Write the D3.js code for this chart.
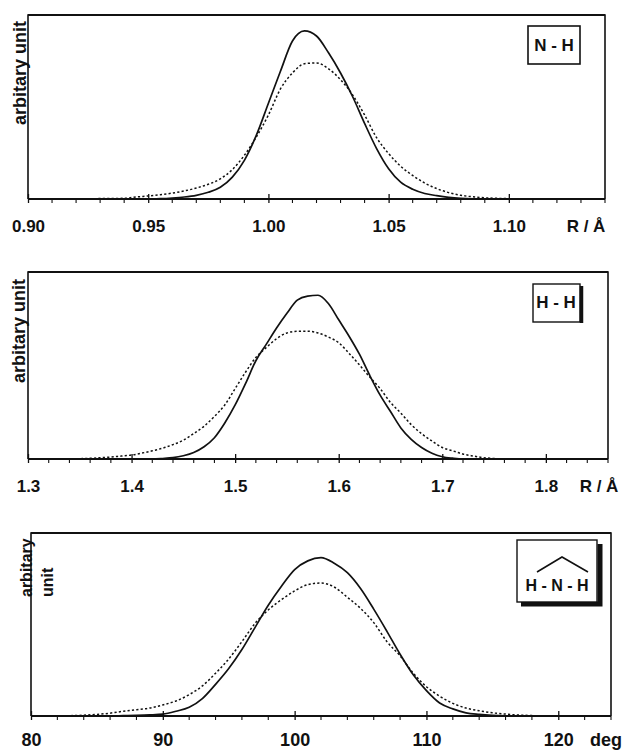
<!DOCTYPE html>
<html><head><meta charset="utf-8">
<script src="https://cdn.jsdelivr.net/npm/d3@7"></script>
<style>
body{margin:0;background:#fff;}
svg{display:block;}
text{font-family:"Liberation Sans",Arial,sans-serif;fill:#111;}
</style></head>
<body><svg id="c" width="624" height="752"></svg>
<script>
// ---------- Panel 1 : N-H bond length ----------
const nhX = [0.90,0.94,0.945,0.95,0.955,0.96,0.965,0.97,0.975,0.98,0.985,0.99,0.995,1.00,1.005,1.01,1.015,1.02,1.025,1.03,1.035,1.04,1.045,1.05,1.055,1.06,1.065,1.07,1.075,1.08,1.085,1.09,1.095,1.10,1.105,1.14];
const nhSolid = [0,0,0,0,0.002,0.006,0.012,0.022,0.04,0.07,0.13,0.23,0.38,0.57,0.76,0.94,1.00,0.97,0.87,0.75,0.61,0.45,0.30,0.18,0.10,0.058,0.033,0.02,0.01,0.004,0.001,0,0,0,0,0];
const nhDotted = [0,0.004,0.012,0.018,0.025,0.035,0.048,0.065,0.088,0.12,0.175,0.26,0.37,0.50,0.655,0.75,0.805,0.81,0.775,0.71,0.62,0.50,0.365,0.27,0.195,0.14,0.095,0.062,0.038,0.022,0.013,0.007,0.004,0.002,0,0];
const nhMajor = [0.90,0.95,1.00,1.05,1.10];
const nhMinor = [0.91,0.92,0.93,0.94,0.96,0.97,0.98,0.99,1.01,1.02,1.03,1.04,1.06,1.07,1.08,1.09,1.11,1.12,1.13,1.14];
const nhLabels = ["0.90","0.95","1.00","1.05","1.10"];

// ---------- Panel 2 : H-H distance ----------
const hhX = [1.30,1.34,1.35,1.36,1.37,1.38,1.39,1.40,1.41,1.42,1.43,1.44,1.45,1.46,1.47,1.48,1.49,1.50,1.51,1.52,1.53,1.54,1.55,1.56,1.57,1.58,1.59,1.60,1.61,1.62,1.63,1.64,1.65,1.66,1.67,1.68,1.69,1.70,1.71,1.72,1.73,1.74,1.75,1.76,1.86];
const hhSolid = [0,0,0,0,0,0,0,0,0,0,0.003,0.008,0.02,0.04,0.075,0.13,0.22,0.33,0.46,0.60,0.70,0.80,0.89,0.97,0.995,1.0,0.95,0.85,0.75,0.64,0.51,0.39,0.29,0.19,0.12,0.07,0.035,0.014,0.005,0,0,0,0,0,0];
const hhDotted = [0,0,0.002,0.004,0.008,0.012,0.018,0.024,0.036,0.05,0.066,0.088,0.115,0.155,0.2,0.26,0.33,0.43,0.53,0.62,0.68,0.735,0.77,0.78,0.78,0.77,0.745,0.71,0.645,0.575,0.50,0.43,0.345,0.28,0.21,0.155,0.11,0.07,0.05,0.03,0.018,0.008,0.003,0,0];
const hhMajor = [1.3,1.4,1.5,1.6,1.7,1.8];
const hhMinor = [1.32,1.34,1.36,1.38,1.42,1.44,1.46,1.48,1.52,1.54,1.56,1.58,1.62,1.64,1.66,1.68,1.72,1.74,1.76,1.78,1.82,1.84,1.86];
const hhLabels = ["1.3","1.4","1.5","1.6","1.7","1.8"];

// ---------- Panel 3 : H-N-H angle ----------
const hnhX = [80,82,83,84,85,86,87,88,89,90,91,92,93,94,95,96,97,98,99,100,101,102,103,104,105,106,107,108,109,110,111,112,113,114,115,116,117,118,119,124];
const hnhSolid = [0,0,0,0,0,0,0.002,0.004,0.007,0.012,0.03,0.055,0.11,0.2,0.3,0.42,0.56,0.70,0.82,0.925,0.98,1.0,0.965,0.905,0.805,0.675,0.535,0.39,0.26,0.16,0.082,0.045,0.02,0.01,0.004,0.001,0,0,0,0];
const hnhDotted = [0,0,0.002,0.005,0.01,0.018,0.03,0.04,0.05,0.07,0.095,0.135,0.19,0.27,0.36,0.47,0.585,0.67,0.735,0.79,0.83,0.84,0.815,0.75,0.68,0.59,0.47,0.38,0.27,0.185,0.125,0.08,0.05,0.033,0.02,0.012,0.006,0.003,0,0];
const hnhMajor = [80,90,100,110,120];
const hnhMinor = [82,84,86,88,92,94,96,98,102,104,106,108,112,114,116,118,122,124];
const hnhLabels = ["80","90","100","110","120"];

const svg = d3.select("#c");
const ink = "#111";

function panel(cfg){
  const g = svg.append("g");
  const x = d3.scaleLinear().domain(cfg.xDomain).range([cfg.left, cfg.right]);
  const y = d3.scaleLinear().domain([0, cfg.yMax]).range([cfg.bottom, cfg.top]);

  g.append("path")
    .attr("d", `M${cfg.left},${cfg.bottom}V${cfg.top}H${cfg.right}V${cfg.bottom}`)
    .attr("fill","none").attr("stroke",ink).attr("stroke-width",1.6);
  g.append("line").attr("x1",cfg.left).attr("x2",cfg.right)
    .attr("y1",cfg.top).attr("y2",cfg.top).attr("stroke",ink).attr("stroke-width",2.2);

  const ax = d3.axisBottom(x).tickValues(cfg.major)
    .tickFormat((d,i)=>cfg.labels[i]).tickSize(5).tickPadding(18);
  const axG = g.append("g").attr("transform",`translate(0,${cfg.bottom})`).call(ax);
  axG.select(".domain").attr("stroke",ink).attr("stroke-width",1.8).attr("d",`M${cfg.left},0H${cfg.right}`);
  axG.selectAll(".tick line").attr("stroke",ink).attr("stroke-width",1.3).attr("y1",-5).attr("y2",4);
  axG.selectAll(".tick text").attr("fill",ink).style("font-size",cfg.fs+"px")
     .style("font-weight","bold").attr("font-family",null).attr("font-size",null)
     .attr("dy",null).attr("y",cfg.labelY - cfg.bottom);
  g.append("g").selectAll("line").data(cfg.minor).join("line")
    .attr("x1",d=>x(d)).attr("x2",d=>x(d))
    .attr("y1",cfg.bottom).attr("y2",cfg.bottom+4)
    .attr("stroke",ink).attr("stroke-width",1.1);

  const line = d3.line().x((d,i)=>x(cfg.xs[i])).y(d=>y(d)).curve(d3.curveMonotoneX);
  g.append("path").datum(cfg.dotted).attr("d",line)
    .attr("fill","none").attr("stroke",ink).attr("stroke-width",1.5)
    .attr("stroke-dasharray","2.2,2.2");
  g.append("path").datum(cfg.solid).attr("d",line)
    .attr("fill","none").attr("stroke",ink).attr("stroke-width",1.7);

  g.append("text").attr("x",cfg.unitX).attr("y",cfg.labelY)
    .attr("text-anchor","middle").style("font-size",cfg.fs+"px").style("font-weight","bold")
    .text(cfg.unit);
  return {g,x,y};
}

function yLabel(lines, x0, yStart, fs){
  lines.forEach((t,i)=>{
    svg.append("text")
      .attr("transform",`translate(${x0[i]},${yStart}) rotate(-90)`)
      .attr("text-anchor","start")
      .style("font-size",fs+"px").style("font-weight","bold")
      .text(t);
  });
}

// Panel 1
panel({xDomain:[0.90,1.14], left:28, right:605, top:15, bottom:199, yMax:1.095,
  xs:nhX, solid:nhSolid, dotted:nhDotted, major:nhMajor, minor:nhMinor, labels:nhLabels,
  labelY:232, fs:17, unit:"R / Å", unitX:586});
yLabel(["arbitary unit"],[26],125,18);
svg.append("rect").attr("x",528).attr("y",26).attr("width",52).attr("height",38)
  .attr("fill","#fff").attr("stroke",ink).attr("stroke-width",1.6);
svg.append("text").attr("x",554).attr("y",51).attr("text-anchor","middle")
  .style("font-size","17px").style("font-weight","bold").text("N - H");

// Panel 2
panel({xDomain:[1.30,1.86], left:28, right:608, top:272, bottom:459, yMax:1.142,
  xs:hhX, solid:hhSolid, dotted:hhDotted, major:hhMajor, minor:hhMinor, labels:hhLabels,
  labelY:492, fs:17, unit:"R / Å", unitX:599});
yLabel(["arbitary unit"],[25],383,18);
svg.append("rect").attr("x",533).attr("y",284).attr("width",47).attr("height",38)
  .attr("fill","#fff").attr("stroke",ink).attr("stroke-width",1.4);
svg.append("line").attr("x1",581.5).attr("x2",581.5).attr("y1",286).attr("y2",323)
  .attr("stroke",ink).attr("stroke-width",3.5);
svg.append("text").attr("x",556).attr("y",308).attr("text-anchor","middle")
  .style("font-size","17px").style("font-weight","bold").text("H - H");

// Panel 3
panel({xDomain:[80,124], left:31, right:611, top:533, bottom:716, yMax:1.156,
  xs:hnhX, solid:hnhSolid, dotted:hnhDotted, major:hnhMajor, minor:hnhMinor, labels:hnhLabels,
  labelY:746, fs:18, unit:"deg", unitX:606});
yLabel(["arbitary","unit"],[32,53],597,16);
svg.append("path").attr("d","M521,604H600V544").attr("fill","none")
  .attr("stroke",ink).attr("stroke-width",5);
svg.append("rect").attr("x",517).attr("y",540).attr("width",80).attr("height",62)
  .attr("fill","#fff").attr("stroke",ink).attr("stroke-width",1.4);
svg.append("polyline").attr("points","537,572 562,557 588,572").attr("fill","none")
  .attr("stroke",ink).attr("stroke-width",1.6);
svg.append("text").attr("x",557).attr("y",591).attr("text-anchor","middle")
  .style("font-size","16px").style("font-weight","bold").text("H - N - H");
</script></body></html>
